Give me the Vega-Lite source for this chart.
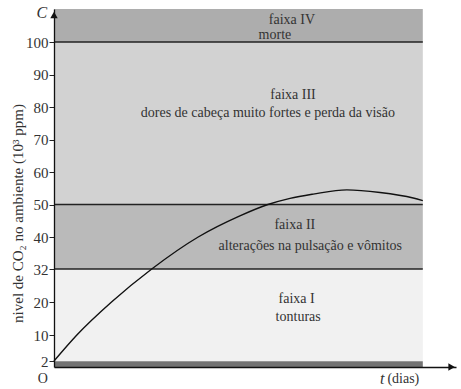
{
  "$schema": "https://vega.github.io/schema/vega-lite/v6.json",
  "width": 402,
  "height": 358,
  "autosize": "none",
  "padding": {"left": 54, "top": 9, "right": 5, "bottom": 22},
  "background": "white",
  "config": {"view": {"stroke": null}},
  "datasets": {
    "bands": [
      {"faixa": "IV", "c1": 100, "c2": 110, "t1": 0, "t2": 10},
      {"faixa": "III", "c1": 50, "c2": 100, "t1": 0, "t2": 10},
      {"faixa": "II", "c1": 32, "c2": 50, "t1": 0, "t2": 10},
      {"faixa": "I", "c1": 2, "c2": 32, "t1": 0, "t2": 10},
      {"faixa": "base", "c1": 0, "c2": 1.9, "t1": 0, "t2": 10}
    ],
    "limits": [{"c": 100}, {"c": 50}, {"c": 32}],
    "curve": [
      {"t": 0, "c": 2},
      {"t": 0.62, "c": 10},
      {"t": 1.56, "c": 20},
      {"t": 2.65, "c": 32},
      {"t": 3.91, "c": 40},
      {"t": 5.04, "c": 46.5},
      {"t": 5.8, "c": 50},
      {"t": 6.4, "c": 51.9},
      {"t": 7.03, "c": 53.2},
      {"t": 7.94, "c": 54.5},
      {"t": 8.84, "c": 53.7},
      {"t": 9.74, "c": 52.0},
      {"t": 10, "c": 51.2}
    ],
    "labels": [
      {"t": 6.45, "c": 106.8, "label": "faixa IV"},
      {"t": 5.99, "c": 102.2, "label": "morte"},
      {"t": 6.48, "c": 83.7, "label": "faixa III"},
      {"t": 5.8, "c": 78.2, "label": "dores de cabeça muito fortes e perda da visão"},
      {"t": 6.53, "c": 43.7, "label": "faixa II"},
      {"t": 6.95, "c": 37.75, "label": "alterações na pulsação e vômitos"},
      {"t": 6.58, "c": 21.2, "label": "faixa I"},
      {"t": 6.62, "c": 15.5, "label": "tonturas"},
      {"t": -0.3, "c": -4, "label": "O"}
    ],
    "leftlabels": [
      {"t": 9.04, "c": -4, "label": "(dias)"}
    ],
    "italic": [
      {"t": -0.33, "c": 108.9, "label": "C"},
      {"t": 8.9, "c": -4, "label": "t"}
    ],
    "arrows": [
      {"t": 0, "c": 108.2, "dir": "up"},
      {"t": 10.78, "c": 0, "dir": "right"}
    ]
  },
  "layer": [
    {
      "data": {"name": "bands"},
      "mark": {"type": "rect"},
      "encoding": {
        "x": {"field": "t1", "type": "quantitative", "scale": {"domain": [0, 10.9], "nice": false, "zero": false},
              "axis": {"domain": true, "domainColor": "#111", "domainWidth": 1.3, "ticks": false, "labels": false, "grid": false, "title": null, "zindex": 1}},
        "x2": {"field": "t2"},
        "y": {"field": "c1", "type": "quantitative",
              "scale": {"domain": [0, 2, 10, 20, 32, 40, 50, 100, 110], "range": [358, 352, 326, 293, 260, 228, 195.5, 33, 0], "nice": false, "zero": false},
              "axis": {"values": [2, 10, 20, 32, 40, 50, 60, 70, 80, 90, 100], "tickCount": 30, "labelOverlap": false, "grid": false, "tickSize": 5, "tickColor": "#222", "domainColor": "#111", "domainWidth": 1.3,
                       "labelFont": "Liberation Serif, Times New Roman, serif", "labelFontSize": 15, "labelColor": "#333", "labelPadding": 1,
                       "title": "nivel de CO₂ no ambiente (10³ ppm)", "titleFont": "Liberation Serif, Times New Roman, serif", "titleFontSize": 15, "titleFontWeight": "normal", "titleColor": "#333",
                       "titleX": -37, "titleY": 204, "titleAngle": -90, "titleBaseline": "middle", "titleAlign": "center", "zindex": 1}},
        "y2": {"field": "c2"},
        "color": {"field": "faixa", "type": "nominal", "legend": null,
                  "scale": {"domain": ["IV", "III", "II", "I", "base"], "range": ["#adadad", "#d2d2d2", "#bababa", "#f1f1f1", "#737373"]}}
      }
    },
    {
      "data": {"name": "limits"},
      "mark": {"type": "rule", "color": "#222", "strokeWidth": 1.5},
      "encoding": {
        "y": {"field": "c", "type": "quantitative"},
        "x": {"datum": 0},
        "x2": {"datum": 10}
      }
    },
    {
      "data": {"name": "curve"},
      "mark": {"type": "line", "color": "#111", "strokeWidth": 1.4, "interpolate": "monotone"},
      "encoding": {
        "x": {"field": "t", "type": "quantitative"},
        "y": {"field": "c", "type": "quantitative"}
      }
    },
    {
      "data": {"name": "labels"},
      "mark": {"type": "text", "font": "Liberation Serif, Times New Roman, serif", "fontSize": 14, "color": "#333", "align": "center", "baseline": "middle"},
      "encoding": {
        "x": {"field": "t", "type": "quantitative"},
        "y": {"field": "c", "type": "quantitative"},
        "text": {"field": "label"}
      }
    },
    {
      "data": {"name": "leftlabels"},
      "mark": {"type": "text", "font": "Liberation Serif, Times New Roman, serif", "fontSize": 14, "color": "#333", "align": "left", "baseline": "middle"},
      "encoding": {
        "x": {"field": "t", "type": "quantitative"},
        "y": {"field": "c", "type": "quantitative"},
        "text": {"field": "label"}
      }
    },
    {
      "data": {"name": "italic"},
      "mark": {"type": "text", "font": "Liberation Serif, Times New Roman, serif", "fontSize": 16, "fontStyle": "italic", "color": "#333", "align": "center", "baseline": "middle"},
      "encoding": {
        "x": {"field": "t", "type": "quantitative"},
        "y": {"field": "c", "type": "quantitative"},
        "text": {"field": "label"}
      }
    },
    {
      "data": {"name": "arrows"},
      "mark": {"type": "point", "filled": true, "color": "#111", "size": 55, "opacity": 1},
      "encoding": {
        "x": {"field": "t", "type": "quantitative"},
        "y": {"field": "c", "type": "quantitative"},
        "shape": {"field": "dir", "type": "nominal", "legend": null,
                  "scale": {"domain": ["up", "right"], "range": ["triangle-up", "triangle-right"]}}
      }
    }
  ]
}
